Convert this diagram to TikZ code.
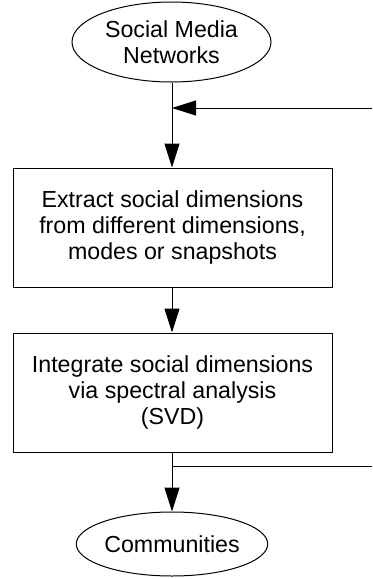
\documentclass[tikz,border=0pt]{standalone}
\usepackage{fontspec}
\setmainfont{Liberation Sans}
\usetikzlibrary{shapes.geometric,arrows.meta}
\begin{document}
\begin{tikzpicture}[x=0.75pt,y=-0.75pt,
  every node/.style={font=\fontsize{17.4}{19.2}\selectfont, align=center, inner sep=0pt},
  ellnode/.style={draw, ellipse, line width=0.75pt},
  boxnode/.style={draw, rectangle, line width=0.75pt, minimum width=239.25pt, minimum height=89.25pt},
  conn/.style={line width=0.75pt},
  arr/.style={conn, -{Triangle[length=18pt,width=11.25pt]}}]
\useasboundingbox (0,0) rectangle (372,579);
\node[ellnode, minimum width=149.25pt, minimum height=60pt] (sm) at (171.5,42) {Social Media\\Networks};
\node[boxnode] (b1) at (172.5,227.5) {Extract social dimensions\\from different dimensions,\\modes or snapshots};
\node[boxnode] (b2) at (172.5,392.5) {Integrate social dimensions\\via spectral analysis\\(SVD)};
\node[ellnode, minimum width=137.25pt, minimum height=48pt] (com) at (172,544) {Communities};
\coordinate (j1) at (172,108);
\coordinate (e1) at (372,108);
\coordinate (j2) at (172,466);
\coordinate (e2) at (372,466);
\draw[arr] (sm.south -| j1) -- (b1.north -| j1);
\draw[arr] (e1) -- (j1);
\draw[arr] (b1.south -| j1) -- (b2.north -| j1);
\draw[arr] (b2.south -| j2) -- (com.north -| j2);
\draw[conn] (j2) -- (e2);
\end{tikzpicture}
\end{document}
